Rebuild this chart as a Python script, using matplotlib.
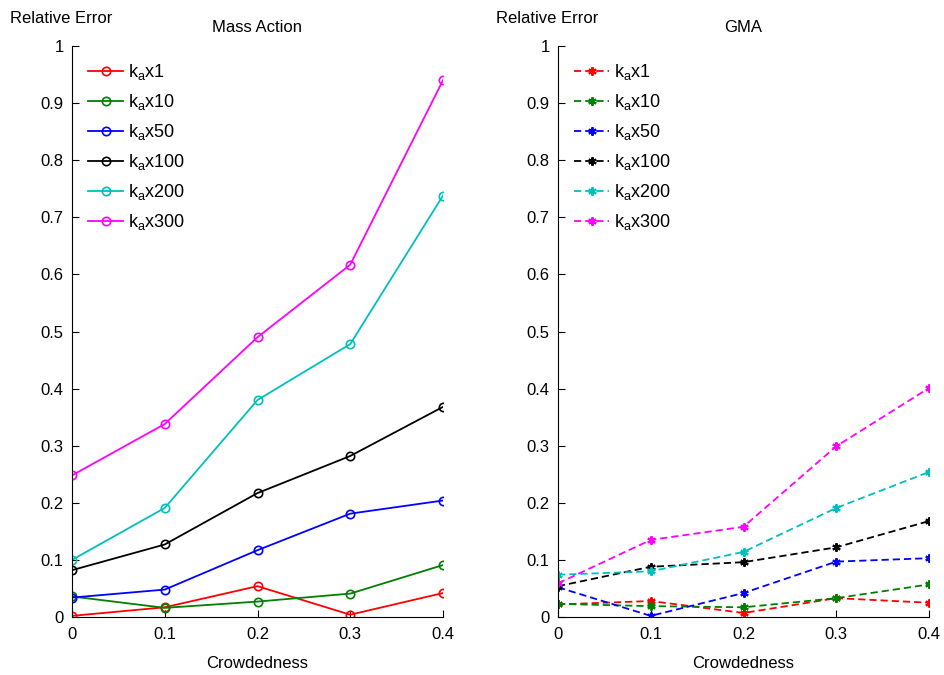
import matplotlib
matplotlib.use("Agg")
import matplotlib.pyplot as plt

plt.rcParams['font.family'] = ['Liberation Sans', 'DejaVu Sans']
plt.rcParams['mathtext.fontset'] = 'custom'
plt.rcParams['mathtext.rm'] = 'Liberation Sans'

crowdedness = [0, 0.1, 0.2, 0.3, 0.4]
labels = ['x1', 'x10', 'x50', 'x100', 'x200', 'x300']
colors = ['#ff0000', '#008000', '#0000ff', '#000000', '#00bfbf', '#ff00ff']

mass_action = [
    [0.002, 0.017, 0.054, 0.004, 0.042],
    [0.036, 0.016, 0.027, 0.041, 0.091],
    [0.034, 0.048, 0.117, 0.181, 0.204],
    [0.082, 0.127, 0.217, 0.282, 0.368],
    [0.100, 0.191, 0.380, 0.478, 0.738],
    [0.248, 0.338, 0.490, 0.617, 0.940],
]

gma = [
    [0.022, 0.028, 0.007, 0.033, 0.025],
    [0.023, 0.019, 0.017, 0.033, 0.057],
    [0.052, 0.002, 0.042, 0.097, 0.103],
    [0.054, 0.088, 0.096, 0.122, 0.168],
    [0.074, 0.080, 0.114, 0.191, 0.254],
    [0.059, 0.135, 0.158, 0.299, 0.401],
]

fig = plt.figure(figsize=(9.45, 6.75), dpi=100)
ax1 = fig.add_axes([72 / 945, 58 / 675, 371 / 945, 571 / 675])
ax2 = fig.add_axes([558 / 945, 58 / 675, 371 / 945, 571 / 675])

asterisk = (6, 2, 0)

for ax, data, title, style in [
    (ax1, mass_action, 'Mass Action',
     dict(linestyle='-', marker='o', markerfacecolor='none', markersize=6, markeredgewidth=1.2)),
    (ax2, gma, 'GMA',
     dict(linestyle=(0, (4, 2.2)), marker=asterisk, markersize=6, markeredgewidth=1.5)),
]:
    for vals, lab, c in zip(data, labels, colors):
        ax.plot(crowdedness, vals, color=c, linewidth=1.3, label=r'$\mathregular{k_a}$' + lab, **style)
    ax.set_xlim(0, 0.4)
    ax.set_ylim(0, 1)
    ax.set_xticks(crowdedness)
    ax.set_xticklabels(['0', '0.1', '0.2', '0.3', '0.4'])
    ax.set_yticks([0, 0.1, 0.2, 0.3, 0.4, 0.5, 0.6, 0.7, 0.8, 0.9, 1])
    ax.set_yticklabels(['0', '0.1', '0.2', '0.3', '0.4', '0.5', '0.6', '0.7', '0.8', '0.9', '1'])
    ax.spines['top'].set_visible(False)
    ax.spines['right'].set_visible(False)
    ax.tick_params(direction='in', labelsize=12, length=5)
    ax.tick_params(axis='x', pad=7)
    ax.tick_params(axis='y', pad=6)
    ax.set_xlabel('Crowdedness', fontsize=12, labelpad=10)
    ax.set_title(title, fontsize=12, pad=10)
    ax.text(-0.03, 1.035, 'Relative Error', transform=ax.transAxes, fontsize=12,
            ha='center', va='bottom')
    ax.legend(loc='upper left', bbox_to_anchor=(0.0, 1.0), frameon=False, fontsize=13,
              handlelength=1.95, labelspacing=0.55, handletextpad=0.25, borderaxespad=0.5)

fig.savefig('out.png', dpi=100)
